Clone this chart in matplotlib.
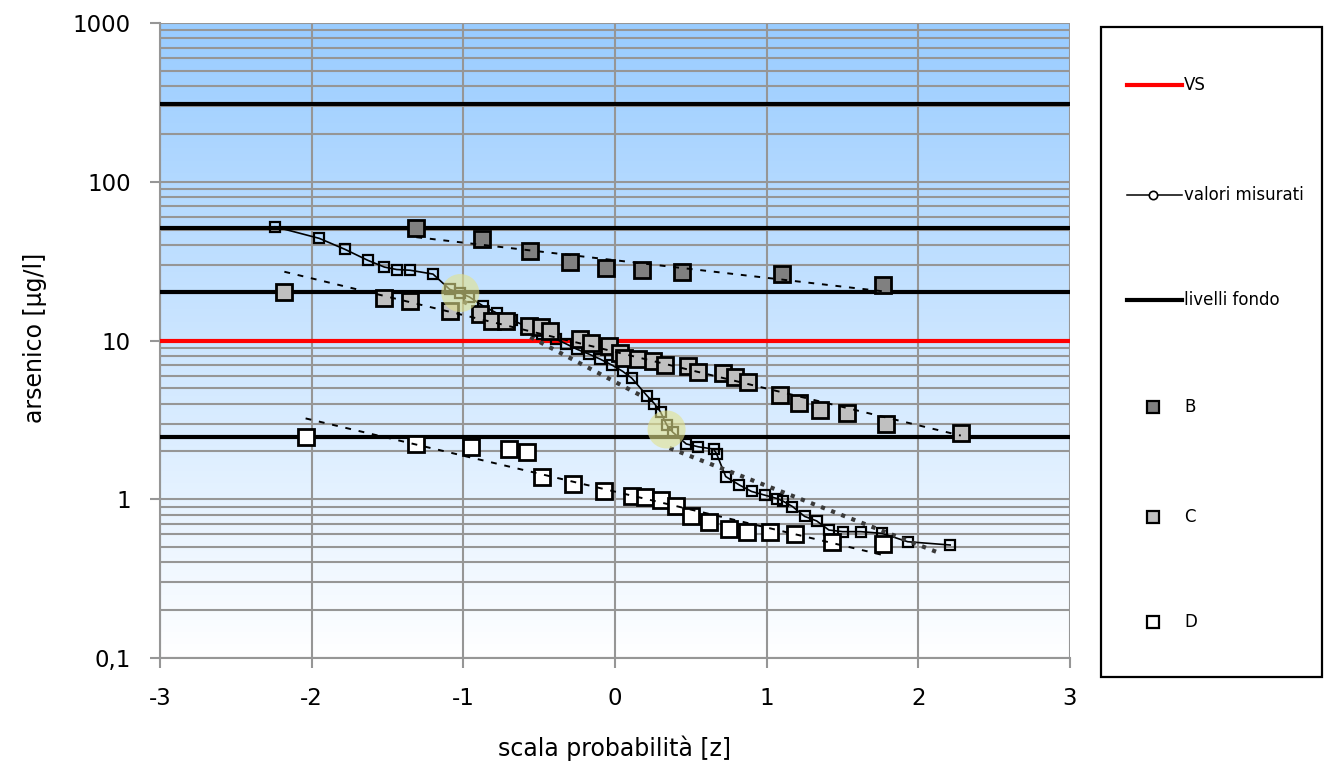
import numpy as np
import matplotlib
matplotlib.use("Agg")
import matplotlib.pyplot as plt
from matplotlib.patches import Rectangle
from matplotlib.lines import Line2D
from matplotlib.ticker import LogLocator, NullFormatter

plt.rcParams['font.family'] = ['DejaVu Sans']

# ---- data: probability scale z and arsenic concentration [µg/l] ----
b_z = [-1.31, -0.88, -0.56, -0.30, -0.06, 0.18, 0.44, 1.10, 1.77]
b_val = [51.4, 43.6, 36.6, 31.2, 28.6, 27.8, 27.0, 26.2, 22.4]

c_z = [-2.18, -1.52, -1.35, -1.09, -0.89, -0.81, -0.72, -0.57, -0.49, -0.43,
       -0.23, -0.16, -0.04, 0.03, 0.06, 0.15, 0.25, 0.33, 0.48, 0.55,
       0.71, 0.79, 0.88, 1.09, 1.21, 1.35, 1.53, 1.79, 2.28]
c_val = [20.3, 18.5, 17.7, 15.3, 14.6, 13.3, 13.3, 12.4, 12.1, 11.4,
         10.2, 9.6, 9.3, 8.4, 7.8, 7.65, 7.45, 7.0, 6.95, 6.3,
         6.2, 5.9, 5.5, 4.55, 4.05, 3.65, 3.5, 3.0, 2.6]

d_z = [-2.04, -1.31, -0.95, -0.70, -0.58, -0.48, -0.28, -0.07, 0.11, 0.20,
       0.30, 0.40, 0.50, 0.62, 0.75, 0.87, 1.02, 1.19, 1.43, 1.77]
d_val = [2.46, 2.24, 2.14, 2.07, 1.98, 1.38, 1.24, 1.13, 1.05, 1.03,
         0.99, 0.91, 0.79, 0.72, 0.65, 0.62, 0.62, 0.60, 0.54, 0.52]

mis_z = [-2.24, -1.95, -1.78, -1.63, -1.52, -1.44, -1.35, -1.20, -1.09, -1.02,
         -0.96, -0.87, -0.78, -0.68, -0.58, -0.48, -0.39, -0.32, -0.25, -0.17,
         -0.10, -0.02, 0.05, 0.11, 0.21, 0.26, 0.30, 0.34, 0.38, 0.47,
         0.55, 0.65, 0.67, 0.73, 0.82, 0.90, 0.99, 1.07, 1.11, 1.17,
         1.25, 1.33, 1.41, 1.50, 1.62, 1.76, 1.93, 2.21]
mis_val = [52, 44, 37.5, 32, 29, 28, 27.7, 26.2, 21, 19.9,
           18.8, 16.5, 14.9, 13.5, 12.2, 11.0, 10.2, 9.5, 8.8, 8.2,
           7.65, 7.0, 6.4, 5.8, 4.5, 4.0, 3.55, 2.95, 2.65, 2.23,
           2.14, 2.07, 1.93, 1.39, 1.23, 1.12, 1.06, 1.01, 0.97, 0.90,
           0.78, 0.73, 0.64, 0.625, 0.625, 0.61, 0.54, 0.515]

# trend segments of the measured curve (upper and lower population)
trend_up_z = [-1.0, 0.19]
trend_up_val = [17.6, 4.4]
trend_lo_z = [0.36, 2.12]
trend_lo_val = [2.1, 0.466]

vs_limit = 10.0
fondo_levels = [311, 51.5, 20.3, 2.45]

# break points of the measured curve
hl_z = [-1.02, 0.34]
hl_val = [19.9, 2.75]

x_ticks = [-3, -2, -1, 0, 1, 2, 3]
x_ticklabels = ['-3', '-2', '-1', '0', '1', '2', '3']
y_ticks = [0.1, 1, 10, 100, 1000]
y_ticklabels = ['0,1', '1', '10', '100', '1000']

legend_labels = ['VS', 'valori misurati', 'livelli fondo', 'B', 'C', 'D']

GRID = '#969696'
B_COL, C_COL, D_COL = '#808080', '#C0C0C0', '#FFFFFF'


def log_fit(z, v):
    z = np.asarray(z, float)
    k, q = np.polyfit(z, np.log10(v), 1)
    zz = np.array([z.min(), z.max()])
    return zz, 10 ** (k * zz + q)


W, H = 1328, 766
fig = plt.figure(figsize=(W / 100, H / 100), dpi=100)
fig.patch.set_facecolor('white')
ax = fig.add_axes([160 / W, 1 - 658 / H, 910 / W, 635 / H])
ax.set_yscale('log')

# vertical blue-to-white gradient behind the plot
t = np.linspace(0, 1, 256)[:, None, None]
top = np.array([0.60, 0.80, 1.0])
img = 1 + (top - 1) * t
img = np.repeat(img, 2, axis=1)
ax.imshow(img, extent=[0, 1, 0, 1], transform=ax.transAxes, origin='lower',
          aspect='auto', zorder=0, interpolation='bilinear')

ax.set_xlim(-3, 3)
ax.set_ylim(0.1, 1000)
ax.set_autoscale_on(False)

ax.set_xticks(x_ticks, x_ticklabels)
ax.set_yticks(y_ticks, y_ticklabels)
ax.yaxis.set_minor_locator(LogLocator(base=10, subs=np.arange(2, 10)))
ax.yaxis.set_minor_formatter(NullFormatter())
ax.tick_params(which='major', direction='out', length=7, width=1.5,
               color=GRID, labelsize=16.5, pad=14)
ax.tick_params(which='minor', length=0)
ax.grid(True, axis='x', which='major', color=GRID, lw=1.5, zorder=1)
ax.grid(True, axis='y', which='both', color=GRID, lw=1.5, zorder=1)
ax.set_axisbelow(True)
for side in ('top', 'right'):
    ax.spines[side].set_visible(False)
for side in ('left', 'bottom'):
    ax.spines[side].set_color(GRID)
    ax.spines[side].set_linewidth(1.5)

# reference levels
for lv in fondo_levels:
    ax.axhline(lv, color='black', lw=3, zorder=3)
ax.axhline(vs_limit, color='#FF0000', lw=3, zorder=3)

# measured values
ax.plot(mis_z, mis_val, color='black', lw=1.2, marker='s', ms=7.5,
        mfc='none', mec='black', mew=1.6, zorder=4)

# trend segments of the measured curve
for zz, vv in ((trend_up_z, trend_up_val), (trend_lo_z, trend_lo_val)):
    ax.plot(zz, vv, color='#3a3a3a', lw=3, ls=(0, (1, 1.6)), zorder=4)

# groups B, C, D with their trend lines
for zs, vs, col, ms in ((b_z, b_val, B_COL, 11.5), (c_z, c_val, C_COL, 12),
                        (d_z, d_val, D_COL, 12)):
    ax.plot(zs, vs, ls='none', marker='s', ms=ms, mfc=col, mec='black',
            mew=2, zorder=5)
    zz, vv = log_fit(zs, vs)
    ax.plot(zz, vv, color='black', lw=1.4, ls=(0, (3, 4)), zorder=6)

# highlighted break points
ax.scatter(hl_z, hl_val, s=750, color='#E2E28C', alpha=0.6,
           edgecolors='none', zorder=7)

fig.text(615 / W, 1 - 748 / H, 'scala probabilità [z]', fontsize=17,
         ha='center', va='center')
fig.text(35 / W, 1 - 338 / H, 'arsenico [µg/l]', fontsize=17, rotation=90,
         ha='center', va='center')

# legend panel
lax = fig.add_axes([1101 / W, 1 - 677 / H, 221 / W, 650 / H])
lax.set_xlim(1101, 1322)
lax.set_ylim(677, 27)
lax.axis('off')
lax.add_patch(Rectangle((0, 0), 1, 1, transform=lax.transAxes,
                        facecolor='white', edgecolor='black', lw=1.6,
                        clip_on=False))
rows = [85, 195, 300, 407, 517, 622]
x0, x1, xm, xt = 1127, 1182, 1153, 1184
lax.add_line(Line2D([x0, x1], [rows[0]] * 2, color='#FF0000', lw=3))
lax.add_line(Line2D([x0, x1], [rows[1]] * 2, color='black', lw=1.1))
lax.add_line(Line2D([xm], [rows[1]], marker='o', ms=6, mfc='white',
                    mec='black', mew=1.2))
lax.add_line(Line2D([x0, x1], [rows[2]] * 2, color='black', lw=3))
for r, col in zip(rows[3:], (B_COL, C_COL, D_COL)):
    lax.add_line(Line2D([xm], [r], marker='s', ms=8, mfc=col, mec='black',
                        mew=1.6))
for r, lab in zip(rows, legend_labels):
    lax.text(xt, r, lab, fontsize=12, ha='left', va='center')

fig.savefig('out.png', dpi=100)
